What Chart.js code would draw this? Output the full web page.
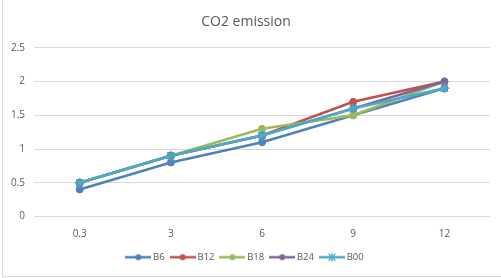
<!DOCTYPE html>
<html>
<head>
<meta charset="utf-8">
<script src="https://cdn.jsdelivr.net/npm/chart.js@4/dist/chart.umd.min.js"></script>
<style>
  html, body { margin: 0; padding: 0; background: #fff; }
  #frame { position: absolute; left: 2px; top: 0; width: 499px; height: 276px;
           border-left: 1px solid #d9d9d9; border-bottom: 1px solid #d9d9d9; }
  #wrap { position: absolute; left: 0; top: 0; width: 501px; height: 278px; }
</style>
</head>
<body>
<div id="frame"></div>
<div id="wrap"><canvas id="linechart" width="501" height="278"></canvas></div>
<script>
const categories = ['0.3', '3', '6', '9', '12'];
const seriesNames = ['B6', 'B12', 'B18', 'B24', 'B00'];
const b6  = [0.4, 0.8, 1.1, 1.5, 1.9];
const b12 = [0.5, 0.9, 1.2, 1.7, 2.0];
const b18 = [0.5, 0.9, 1.3, 1.5, 2.0];
const b24 = [0.5, 0.9, 1.2, 1.6, 2.0];
const b00 = [0.5, 0.9, 1.2, 1.6, 1.9];
const colors = ['#4f81bd', '#c0504d', '#9bbb59', '#8064a2', '#4bacc6'];
const markers = ['circle', 'circle', 'circle', 'circle', 'star'];

const values = [b6, b12, b18, b24, b00];

// little line + marker picture for the legend
function legendIcon(color, marker) {
  const c = document.createElement('canvas');
  c.width = 26; c.height = 10;
  const g = c.getContext('2d');
  g.strokeStyle = color; g.fillStyle = color; g.lineWidth = 2.5;
  g.beginPath(); g.moveTo(0, 5); g.lineTo(26, 5); g.stroke();
  if (marker === 'circle') {
    g.beginPath(); g.arc(13, 5, 3, 0, Math.PI * 2); g.fill();
  } else {
    g.lineWidth = 1.2;
    g.beginPath();
    g.moveTo(9.5, 1.5); g.lineTo(16.5, 8.5);
    g.moveTo(16.5, 1.5); g.lineTo(9.5, 8.5);
    g.moveTo(13, 1); g.lineTo(13, 9);
    g.stroke();
  }
  return c;
}

const tickFont = { family: 'Open Sans', size: 10 };

const ctx = document.getElementById('linechart').getContext('2d');
const myChart = new Chart(ctx, {
  type: 'line',
  data: {
    labels: categories,
    datasets: seriesNames.map((name, i) => ({
      label: name,
      data: values[i],
      order: seriesNames.length - i,
      borderColor: colors[i],
      backgroundColor: colors[i],
      borderWidth: 2.5,
      pointStyle: markers[i],
      pointRadius: markers[i] === 'star' ? 5 : 3.5,
      pointBorderWidth: markers[i] === 'star' ? 1.5 : 1,
      tension: 0
    }))
  },
  options: {
    responsive: false,
    animation: false,
    layout: { padding: { left: 2, right: 11, top: 9, bottom: 6 } },
    plugins: {
      title: {
        display: true,
        text: 'CO2 emission',
        color: '#595959',
        font: { family: 'Open Sans', size: 14, weight: 'normal' },
        padding: { top: 5, bottom: 17 }
      },
      legend: {
        position: 'bottom',
        labels: {
          color: '#595959',
          font: { family: 'Open Sans', size: 9.5 },
          usePointStyle: true,
          pointStyleWidth: 20,
          padding: 8,
          sort: (a, b) => a.datasetIndex - b.datasetIndex,
          generateLabels: (chart) => {
            const items = Chart.defaults.plugins.legend.labels.generateLabels(chart);
            items.forEach((it) => { it.pointStyle = legendIcon(colors[it.datasetIndex], markers[it.datasetIndex]); });
            return items;
          }
        }
      },
      tooltip: { enabled: false }
    },
    scales: {
      x: {
        offset: true,
        grid: { display: false },
        border: { display: false },
        ticks: { color: '#595959', font: tickFont, padding: 4 }
      },
      y: {
        min: 0,
        max: 2.5,
        grid: { color: '#d9d9d9', lineWidth: 1, drawTicks: false },
        border: { display: false },
        ticks: {
          stepSize: 0.5,
          color: '#595959',
          font: tickFont,
          padding: 9,
          callback: (v) => String(v)
        }
      }
    }
  }
});
</script>
</body>
</html>
